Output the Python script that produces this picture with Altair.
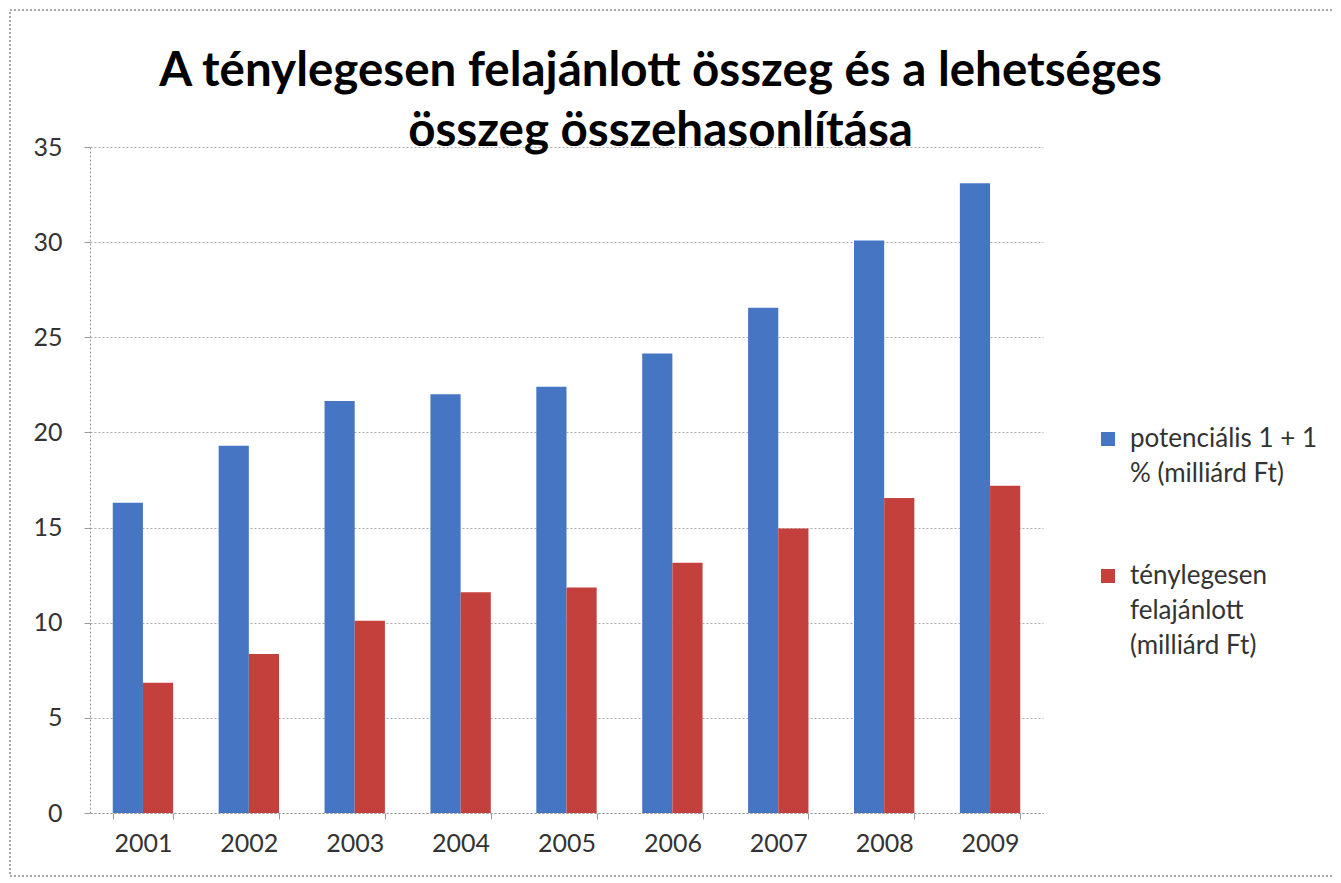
import altair as alt
import pandas as pd

years = ["2001", "2002", "2003", "2004", "2005", "2006", "2007", "2008", "2009"]
potential = [16.3, 19.3, 21.65, 22.0, 22.4, 24.15, 26.55, 30.08, 33.1]
actual = [6.85, 8.35, 10.1, 11.6, 11.85, 13.15, 14.95, 16.55, 17.2]
series = ["potenciális 1 + 1\n% (milliárd Ft)", "ténylegesen\nfelajánlott\n(milliárd Ft)"]
colors = ["#4676C3", "#C3403D"]
title_lines = ["A ténylegesen felajánlott összeg és a lehetséges", "összeg összehasonlítása"]
y_ticks = [0, 5, 10, 15, 20, 25, 30, 35]

rows = []
for i, yr in enumerate(years):
    rows.append({"year": yr, "series": series[0], "value": potential[i]})
    rows.append({"year": yr, "series": series[1], "value": actual[i]})
df = pd.DataFrame(rows)

FONT = "Lato"

bars = alt.Chart(df).mark_bar().encode(
    x=alt.X("year:N", sort=years, title=None,
            scale=alt.Scale(paddingInner=0.43, paddingOuter=0.215),
            axis=alt.Axis(labelAngle=0, labelFont=FONT, labelFontSize=25, labelColor="#333333",
                          labelPadding=12, tickBand="extent", tickSize=6, tickColor="#999999",
                          domainColor="#999999", domainDash=[2, 2], grid=False)),
    xOffset=alt.XOffset("series:N", sort=series, scale=alt.Scale(paddingInner=0, paddingOuter=0)),
    y=alt.Y("value:Q", title=None,
            scale=alt.Scale(domain=[0, 35], nice=False),
            axis=alt.Axis(values=y_ticks, labelFont=FONT, labelFontSize=25, labelColor="#333333",
                          labelPadding=22, tickSize=6, tickColor="#999999",
                          domainColor="#999999", domainDash=[2, 2],
                          grid=True, gridColor="#aaaaaa", gridDash=[2, 2], gridWidth=1)),
    color=alt.Color("series:N", sort=series,
                    scale=alt.Scale(domain=series, range=colors),
                    legend=alt.Legend(title=None, orient="none", legendX=1005, legendY=279,
                                      symbolType="square", symbolSize=196, symbolStrokeWidth=0,
                                      labelFont=FONT, labelFontSize=26, labelColor="#333333",
                                      labelExpr="split(datum.label, '\\n')",
                                      labelBaseline="middle", labelLimit=400, labelOffset=9,
                                      rowPadding=76, padding=0)),
)

# outer chart frame (decoration only)
frame = alt.Chart(pd.DataFrame({"f": [0]})).mark_rect(
    fill=None, stroke="#8a8a8a", strokeWidth=1.5, strokeDash=[2, 2]
).encode(
    x=alt.value(-80), x2=alt.value(1248), y=alt.value(-137), y2=alt.value(729)
)

chart = alt.layer(bars, frame).properties(
    width=953,
    height=666,
    title=alt.TitleParams(title_lines, font=FONT, fontSize=47.5, fontWeight="bold", color="#000000",
                          anchor="middle", dx=94, lineHeight=60, offset=-146),
    autosize=alt.AutoSizeParams(type="none"),
    padding={"left": 82, "top": 139, "right": 290, "bottom": 70},
).configure(style={"guide-label": {"lineHeight": 35}}).configure_view(stroke=None)

chart.save("out.html", embed_options={"renderer": "svg", "actions": False})
